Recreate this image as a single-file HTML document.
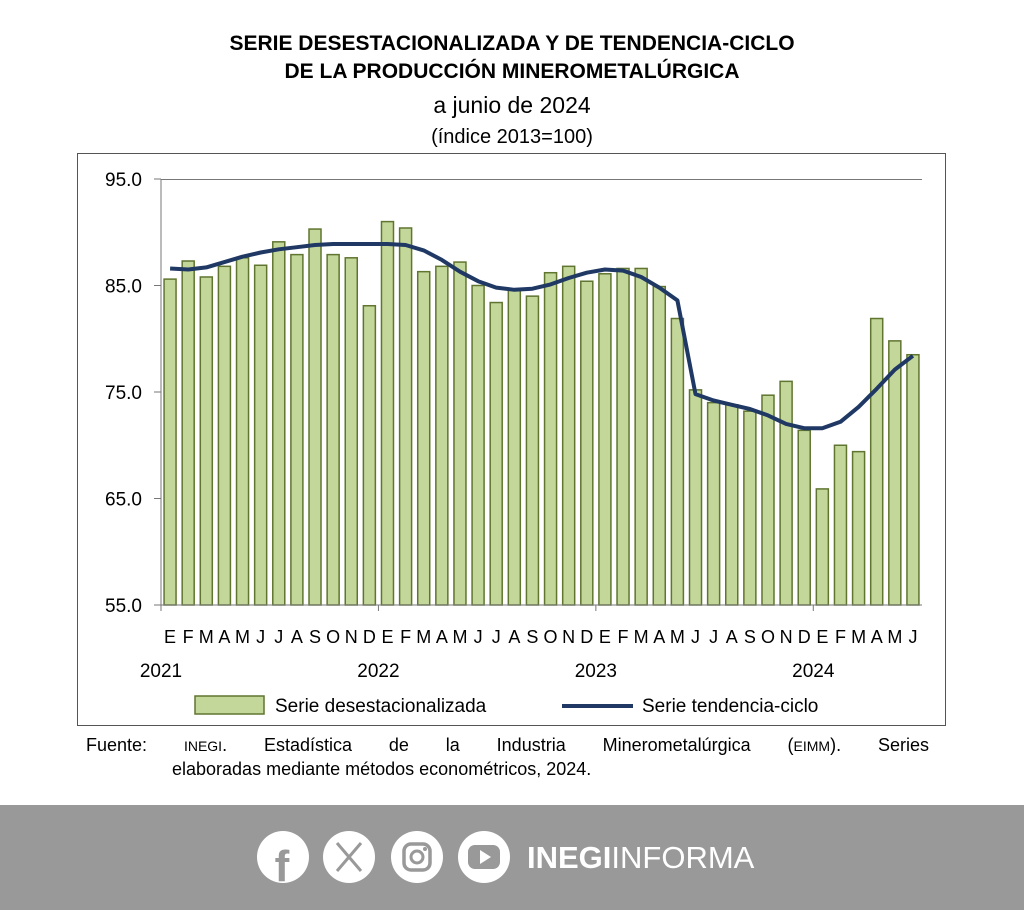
<!DOCTYPE html>
<html><head><meta charset="utf-8"><style>
body{margin:0;width:1024px;height:910px;background:#fff;font-family:"Liberation Sans",sans-serif;overflow:hidden;position:relative}
.t{position:absolute;left:0;width:1024px;text-align:center;color:#000}
</style></head><body>
<div class="t" style="top:30px;font-weight:bold;font-size:21px;line-height:28px">SERIE DESESTACIONALIZADA Y DE TENDENCIA-CICLO<br>DE LA PRODUCCIÓN MINEROMETALÚRGICA</div>
<div class="t" style="top:92px;font-size:23px">a junio de 2024</div>
<div class="t" style="top:126px;font-size:20px">(índice 2013=100)</div>
<svg id="c" width="1024" height="910" style="position:absolute;left:0;top:0"></svg>
<div style="position:absolute;left:86px;top:733px;width:843px;font-size:18px;line-height:24px;text-align:justify;text-align-last:justify">Fuente: <span style="font-size:14px">INEGI</span>. Estadística de la Industria Minerometalúrgica (<span style="font-size:14px">EIMM</span>). Series</div>
<div style="position:absolute;left:172px;top:757px;font-size:18px;line-height:24px">elaboradas mediante métodos econométricos, 2024.</div>
<div style="position:absolute;left:0;top:805px;width:1024px;height:105px;background:#999"></div>
<svg width="1024" height="105" style="position:absolute;left:0;top:805px">
<g fill="#fff">
<circle cx="283" cy="52" r="26"/><circle cx="349" cy="52" r="26"/><circle cx="417" cy="52" r="26"/><circle cx="484" cy="52" r="26"/>
</g>
<text x="282" y="76" font-size="44" font-weight="bold" fill="#999" text-anchor="middle" font-family="Liberation Sans">f</text>
<path d="M337 38 L361 66 M361 38 L337 66" stroke="#999" stroke-width="3"/>
<rect x="404" y="39" width="26" height="26" rx="7" fill="none" stroke="#999" stroke-width="3.5"/>
<circle cx="417" cy="52" r="6" fill="none" stroke="#999" stroke-width="3"/><circle cx="425" cy="44" r="2" fill="#999"/>
<rect x="468" y="40" width="32" height="24" rx="7" fill="#999"/><path d="M480 45 L491 52 L480 59Z" fill="#fff"/>
<text x="527" y="63" font-size="31" fill="#fff" font-family="Liberation Sans"><tspan font-weight="bold">INEGI</tspan>INFORMA</text>
</svg>
<script>
const s=document.getElementById('c');let h='';
h+='<rect x="77.5" y="153.5" width="868" height="572" fill="none" stroke="#555"/>';
const X0=161,X1=922,Y=v=>605-(v-55)*10.65,W=(X1-X0)/42;
h+='<line x1="161" y1="179" x2="161" y2="605" stroke="#777"/>';
[95,85,75,65,55].forEach(v=>{h+=`<line x1="154" y1="${Y(v)}" x2="161" y2="${Y(v)}" stroke="#777"/><text x="142" y="${Y(v)+7}" font-size="19" text-anchor="end">${v.toFixed(1)}</text>`});
h+='<line x1="161" y1="179.5" x2="922" y2="179.5" stroke="#777"/>';
const d=[85.6,87.3,85.8,86.8,87.6,86.9,89.1,87.9,90.3,87.9,87.6,83.1,91.0,90.4,86.3,86.8,87.2,85.0,83.4,84.6,84.0,86.2,86.8,85.4,86.1,86.6,86.6,84.9,81.9,75.2,74.0,73.8,73.2,74.7,76.0,71.4,65.9,70.0,69.4,81.9,79.8,78.5];
const m='EFMAMJJASONDEFMAMJJASONDEFMAMJJASONDEFMAMJ';
d.forEach((v,i)=>{const cx=X0+W*(i+.5);h+=`<rect x="${cx-6}" y="${Y(v)}" width="12" height="${605-Y(v)}" fill="#c4d79b" stroke="#5f7530" stroke-width="1.5"/>`;
h+=`<text x="${cx}" y="643" font-size="18" text-anchor="middle">${m[i]}</text>`});
h+='<line x1="161" y1="605" x2="922" y2="605" stroke="#777"/>';
[0,12,24,36].forEach(i=>{const x=X0+W*i;h+=`<line x1="${x}" y1="605" x2="${x}" y2="611" stroke="#777"/><text x="${x}" y="677" font-size="19" text-anchor="middle">${2021+i/12}</text>`});
const tt=[86.6,86.5,86.7,87.2,87.7,88.1,88.4,88.6,88.8,88.9,88.9,88.9,88.9,88.8,88.3,87.4,86.3,85.4,84.8,84.6,84.7,85.1,85.7,86.2,86.5,86.4,85.8,84.8,83.6,74.8,74.2,73.8,73.4,72.8,72.0,71.6,71.6,72.2,73.6,75.3,77.1,78.4];
let p='';
tt.forEach((v,i)=>{const cx=X0+W*(i+.5);p+=(i?'L':'M')+cx.toFixed(1)+' '+Y(v).toFixed(1)});
h+=`<path d="${p}" fill="none" stroke="#1f3864" stroke-width="4" stroke-linejoin="round"/>`;
h+='<rect x="195" y="696" width="69" height="18" fill="#c4d79b" stroke="#5f7530" stroke-width="1.5"/><text x="275" y="712" font-size="19">Serie desestacionalizada</text>';
h+='<line x1="562" y1="706" x2="633" y2="706" stroke="#1f3864" stroke-width="4"/><text x="642" y="712" font-size="19">Serie tendencia-ciclo</text>';
s.innerHTML=h;
</script>
</body></html>
